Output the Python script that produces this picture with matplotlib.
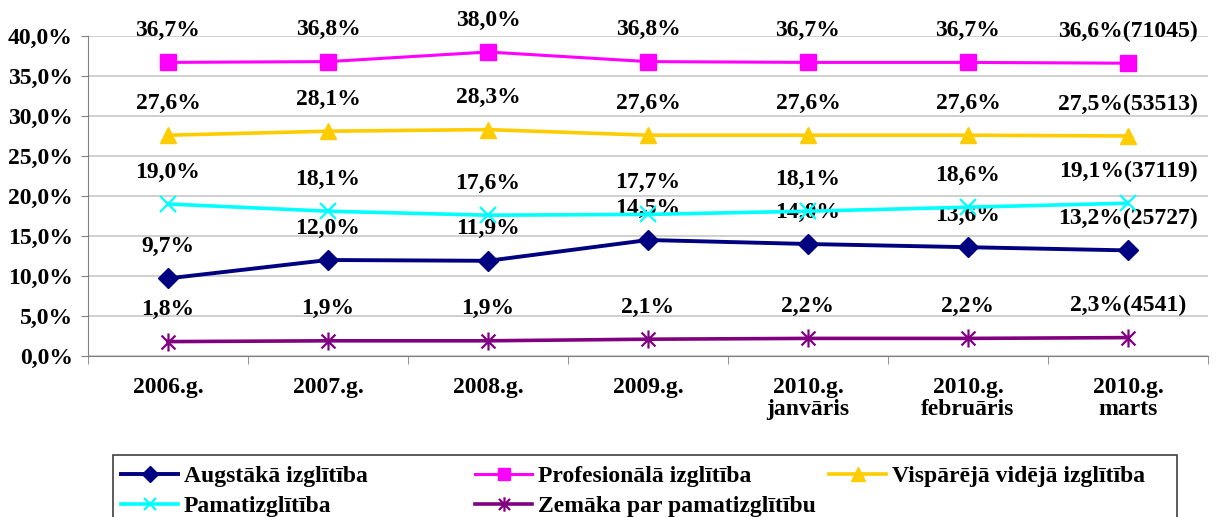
import matplotlib
matplotlib.use("Agg")
import matplotlib.pyplot as plt
from matplotlib.path import Path
from matplotlib.patches import Rectangle

# data
categories = ["2006.g.", "2007.g.", "2008.g.", "2009.g.",
              "2010.g.\njanvāris", "2010.g.\nfebruāris", "2010.g.\nmarts"]

augstaka = [9.7, 12.0, 11.9, 14.5, 14.0, 13.6, 13.2]
profesionala = [36.7, 36.8, 38.0, 36.8, 36.7, 36.7, 36.6]
visparejа = [27.6, 28.1, 28.3, 27.6, 27.6, 27.6, 27.5]
pamat = [19.0, 18.1, 17.6, 17.7, 18.1, 18.6, 19.1]
zemaka = [1.8, 1.9, 1.9, 2.1, 2.2, 2.2, 2.3]

# counts shown after the last value
counts = [25727, 71045, 53513, 37119, 4541]

names = ["Augstākā izglītība", "Profesionālā izglītība", "Vispārējā vidējā izglītība",
         "Pamatizglītība", "Zemāka par pamatizglītību"]

yticks = [0, 5, 10, 15, 20, 25, 30, 35, 40]

# excel style star: an x with a vertical bar
star = Path([(-1, -1), (1, 1), (-1, 1), (1, -1), (0, -1.3), (0, 1.3)],
            [Path.MOVETO, Path.LINETO, Path.MOVETO, Path.LINETO, Path.MOVETO, Path.LINETO])

styles = [
    dict(color="#000080", marker="D", ms=10, lw=2.8),
    dict(color="#FF00FF", marker="s", ms=11, lw=2.2),
    dict(color="#FFCC00", marker="^", ms=12, lw=2.6),
    dict(color="#00FFFF", marker="x", ms=11, lw=2.6, mew=1.6),
    dict(color="#800080", marker=star, ms=13, lw=2.6, mew=1.6),
]

font = "Liberation Serif"
fs = 17
plt.rcParams["font.family"] = [font, "DejaVu Serif"]
plt.rcParams["font.weight"] = "bold"

fig = plt.figure(figsize=(12.23, 5.17), dpi=100)
ax = fig.add_axes([88 / 1223, 1 - 356 / 517, 1120 / 1223, 320 / 517])

x = list(range(len(categories)))
series = [augstaka, profesionala, visparejа, pamat, zemaka]
handles = []
for vals, st, name, cnt in zip(series, styles, names, counts):
    h, = ax.plot(x, vals, color=st["color"], marker=st["marker"], ms=st["ms"],
                 lw=st["lw"], mec=st["color"], mfc=st["color"],
                 mew=st.get("mew", 1), label=name, zorder=3)
    handles.append(h)
    for i, v in enumerate(vals):
        txt = f"{v:.1f}%".replace(".", ",")
        if i == len(vals) - 1:
            txt += f"({cnt})"
        ax.annotate(txt, (i, v), xytext=(0, 32), textcoords="offset pixels",
                    ha="center", va="center", fontsize=fs, fontweight="bold")

ax.set_xlim(-0.5, len(categories) - 0.5)
ax.set_ylim(0, 40)
ax.set_yticks(yticks)
ax.set_yticklabels([f"{t:.1f}%".replace(".", ",") for t in yticks])
ax.set_xticks(x)
ax.set_xticklabels(categories, linespacing=1.1)
ax.set_xticks([i - 0.5 for i in range(len(categories) + 1)], minor=True)
ax.tick_params(axis="x", which="major", length=0, pad=15, labelsize=fs)
ax.tick_params(axis="x", which="minor", length=6, color="#808080")
ax.tick_params(axis="y", length=5, color="#808080", pad=6, labelsize=fs)
ax.grid(axis="y", color="#c8c8c8", lw=1.2)
ax.set_axisbelow(True)
for s in ["top", "right"]:
    ax.spines[s].set_visible(False)
for s in ["left", "bottom"]:
    ax.spines[s].set_color("#808080")

# legend: three columns of equal width inside one frame
fig.patches.append(Rectangle((113 / 1223, -0.1), 1064 / 1223, 0.1 + 62 / 517,
                             transform=fig.transFigure, fill=False,
                             edgecolor="#404040", lw=1.2))
cols = [[0, 3], [1, 4], [2]]
col_x = [112, 466, 820]
for cx, idx in zip(col_x, cols):
    leg = fig.legend([handles[i] for i in idx], [names[i] for i in idx],
                     loc="upper left", bbox_to_anchor=(cx / 1223, 1 - 456 / 517),
                     frameon=False, handlelength=2.4,
                     handletextpad=0.25, labelspacing=0.35, borderaxespad=0,
                     markerscale=0.8, prop=dict(family=font, weight="bold", size=fs))

fig.savefig("out.png", dpi=100)
